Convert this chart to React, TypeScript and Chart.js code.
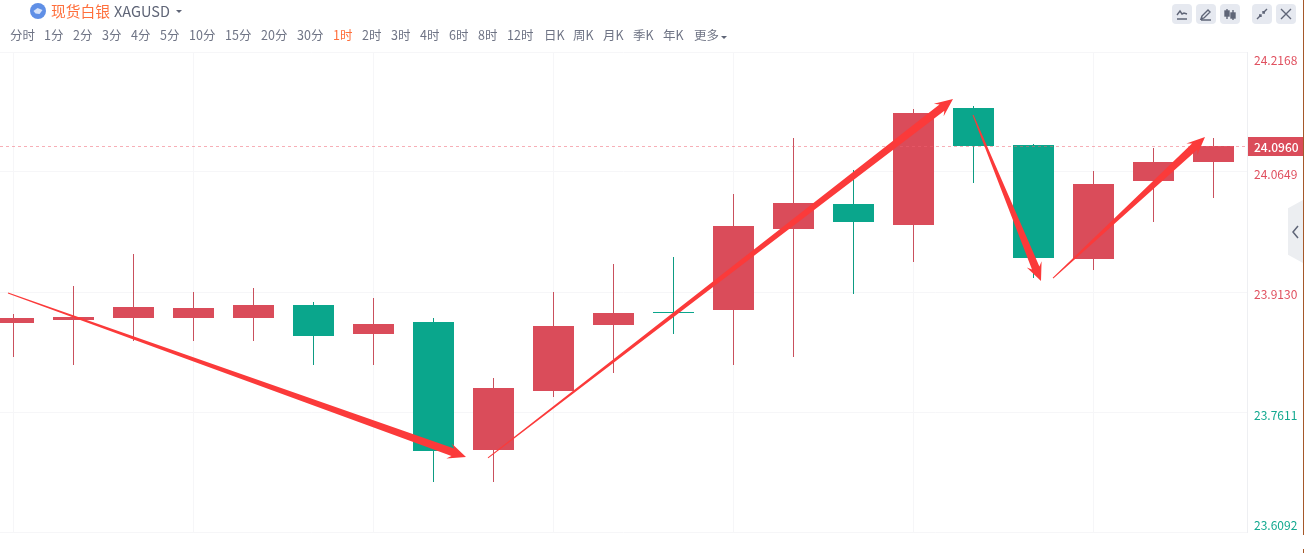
import React, { useEffect, useRef } from "react";
import { Chart, registerables } from "chart.js";

Chart.register(...registerables);

const slots = [0, 1, 2, 3, 4, 5, 6, 7, 8, 9, 10, 11, 12, 13, 14, 15, 16, 17, 18, 19, 20];
const opens = [23.8738, 23.8776, 23.8801, 23.8801, 23.8801, 23.8965, 23.8598, 23.875, 23.713, 23.7877, 23.8712, 23.8877, 23.8902, 23.9927, 24.0244, 23.9978, 24.1459, 24.0991, 23.9548, 24.0535, 24.0776];
const closes = [23.8801, 23.8813, 23.894, 23.8927, 23.8965, 23.8573, 23.8725, 23.7117, 23.7915, 23.87, 23.8864, 23.8864, 23.9965, 24.0257, 24.0016, 24.1396, 24.0978, 23.956, 24.0497, 24.0776, 24.0978];
const highs = [23.8851, 23.9206, 23.9611, 23.913, 23.9181, 23.9003, 23.9054, 23.8801, 23.8041, 23.913, 23.9484, 23.9573, 24.0371, 24.1079, 24.0674, 24.1446, 24.1484, 24.1003, 24.0662, 24.0953, 24.1079];
const lows = [23.8307, 23.8206, 23.851, 23.851, 23.851, 23.8206, 23.8206, 23.6725, 23.6725, 23.7801, 23.8105, 23.8598, 23.8206, 23.8307, 23.9105, 23.951, 24.051, 23.9307, 23.9408, 24.0016, 24.032];

const lastPrice = 24.096;
const tickValues = [24.2168, 24.0649, 23.913, 23.7611, 23.6092];
const tickNudges = [8, 2, 2, 3, -7];
const verticalGridSlots = [0, 3, 6, 9, 12, 15, 18];
const arrowStarts = [[-0.0917, 23.9117], [7.9083, 23.7029], [15.9917, 24.1371], [17.325, 23.9307]];
const arrowEnds = [[7.5417, 23.7041], [15.6583, 24.1573], [17.125, 23.9269], [19.8583, 24.1092]];

const menuLabels = ["分时", "1分", "2分", "3分", "4分", "5分", "10分", "15分", "20分", "30分", "1时", "2时", "3时", "4时", "6时", "8时", "12时", "日K", "周K", "月K", "季K", "年K", "更多"];
const menuLefts = [10, 44, 73, 102, 131, 160, 189, 225, 261, 297, 333, 362, 391, 420, 449, 478, 507, 544, 573, 603, 633, 663, 694];

const UP = "#da4c5a";
const DOWN = "#0aa68c";
const UP_WICK = "#c9505d";
const DOWN_WICK = "#0d9b83";
const FONT = '"Noto Sans CJK SC", "Noto Sans", sans-serif';
const X_MIN = -0.225;
const X_MAX = 20.5583;

const overlayPlugin = {
  id: "overlay",
  afterLayout(chart: any) {
    const s = chart.scales.y;
    s._labelItems = s._computeLabelItems(chart.chartArea);
    s._labelItems.forEach((it: any, i: number) => {
      it.options.translation[1] += tickNudges[i] || 0;
    });
  },
  afterDraw(chart: any) {
    const { ctx, scales, chartArea } = chart;
    const x = scales.x;
    const y = scales.y;
    ctx.save();
    const py = Math.round(y.getPixelForValue(lastPrice));
    // last-price dashed line
    ctx.strokeStyle = "rgba(240, 96, 112, 0.5)";
    ctx.lineWidth = 1;
    ctx.setLineDash([3, 3]);
    ctx.beginPath();
    ctx.moveTo(chartArea.left, py - 0.5);
    ctx.lineTo(chartArea.right, py - 0.5);
    ctx.stroke();
    ctx.setLineDash([]);
    // last-price tag
    ctx.fillStyle = UP;
    ctx.fillRect(1248, py - 10, 55, 19);
    ctx.fillStyle = "#ffffff";
    ctx.font = `500 12px ${FONT}`;
    ctx.textBaseline = "middle";
    ctx.textAlign = "left";
    ctx.fillText(lastPrice.toFixed(4), 1254, py);
    // hand-drawn arrows
    ctx.fillStyle = "#fb3a3a";
    arrowStarts.forEach((s, i) => {
      const e = arrowEnds[i];
      const x0 = x.getPixelForValue(s[0]);
      const y0 = y.getPixelForValue(s[1]);
      const x1 = x.getPixelForValue(e[0]);
      const y1 = y.getPixelForValue(e[1]);
      const len = Math.hypot(x1 - x0, y1 - y0);
      const ux = (x1 - x0) / len;
      const uy = (y1 - y0) / len;
      const nx = -uy;
      const ny = ux;
      const at = (along: number, off: number): [number, number] => [x0 + ux * along + nx * off, y0 + uy * along + ny * off];
      const pts = [
        at(0, 0.5),
        at(len - 14, 4),
        at(len - 18, 8),
        at(len, 0),
        at(len - 18, -8),
        at(len - 14, -4),
        at(0, -0.5),
      ];
      ctx.beginPath();
      pts.forEach((p, k) => (k ? ctx.lineTo(p[0], p[1]) : ctx.moveTo(p[0], p[1])));
      ctx.closePath();
      ctx.fill();
    });
    ctx.restore();
  },
};

function Btn({ left, children }: { left: number; children: React.ReactNode }) {
  return (
    <div style={{ position: "absolute", left, top: 4, width: 20, height: 20, borderRadius: 4, background: "#e6e9f0" }}>
      <svg width="20" height="20" viewBox="0 0 20 20" fill="none" stroke="#5f6577" strokeWidth="1.4">
        {children}
      </svg>
    </div>
  );
}

export default function App() {
  const ref = useRef<HTMLCanvasElement>(null);
  useEffect(() => {
    const rising = opens.map((o, i) => closes[i] >= o);
    const chart = new Chart(ref.current!, {
      type: "bar",
      data: {
        datasets: [
          {
            type: "bar",
            data: slots.map((s, i) => ({ x: s, y: [lows[i], highs[i]] })),
            backgroundColor: rising.map((r) => (r ? UP_WICK : DOWN_WICK)),
            barThickness: 1,
            inflateAmount: 0,
            grouped: false,
            order: 2,
          },
          {
            type: "bar",
            data: slots.map((s, i) => ({ x: s, y: [opens[i], closes[i]] })),
            backgroundColor: rising.map((r) => (r ? UP : DOWN)),
            barThickness: 41,
            inflateAmount: 0,
            grouped: false,
            minBarLength: 1,
            order: 1,
          },
        ] as any,
      },
      options: {
        animation: false,
        responsive: false,
        devicePixelRatio: 1,
        layout: { padding: { top: 52, bottom: 21, left: 0, right: 0 } },
        plugins: { legend: { display: false }, tooltip: { enabled: false } },
        scales: {
          x: {
            type: "linear",
            offset: false,
            min: X_MIN,
            max: X_MAX,
            grid: { color: "#f6f6f8", drawTicks: false, lineWidth: 1, offset: false },
            border: { display: false },
            ticks: { display: false },
            afterBuildTicks: (axis: any) => {
              axis.ticks = verticalGridSlots.map((value) => ({ value }));
            },
          },
          y: {
            position: "right",
            min: 23.6092,
            max: 24.2168,
            afterFit: (axis: any) => {
              axis.width = 57;
            },
            afterBuildTicks: (axis: any) => {
              axis.ticks = tickValues.map((value) => ({ value }));
            },
            grid: { color: "#f6f6f8", drawTicks: false, lineWidth: 1 },
            border: { display: true, color: "#eeeff2" },
            ticks: {
              padding: 7,
              autoSkip: false,
              maxRotation: 0,
              font: { family: FONT, size: 12 },
              color: (c: any) => (c.tick && c.tick.value > lastPrice - 0.2 ? "#e0505f" : "#12a88f"),
              callback: (v: any) => Number(v).toFixed(4),
            },
          },
        },
      } as any,
      plugins: [overlayPlugin],
    });
    return () => chart.destroy();
  }, []);

  return (
    <div style={{ position: "fixed", left: 0, top: 0, width: 1304, height: 553, background: "#fff", overflow: "hidden", fontFamily: FONT }}>
      <canvas ref={ref} width={1304} height={553} style={{ position: "absolute", left: 0, top: 0, width: 1304, height: 553 }} />
      <div style={{ position: "absolute", left: 30, top: 3, width: 16, height: 16, borderRadius: 8, background: "#5f8fe6" }} />
      <svg style={{ position: "absolute", left: 30, top: 3 }} width="16" height="16"><path d="M3.5 8l4-3 5 2-3 4-4-0.5z" fill="#d5e2fa" /></svg>
      <div style={{ position: "absolute", left: 51, top: 0, fontSize: 14.75, lineHeight: "22px", color: "#ff6f3c" }}>现货白银</div>
      <div style={{ position: "absolute", left: 114, top: 0, fontSize: 14.5, lineHeight: "22px", color: "#5f6577" }}>XAGUSD</div>
      <div style={{ position: "absolute", left: 176, top: 10, width: 0, height: 0, borderLeft: "3px solid transparent", borderRight: "3px solid transparent", borderTop: "3px solid #5f6577" }} />
      {menuLabels.map((t, i) => (
        <div key={t} style={{ position: "absolute", left: menuLefts[i], top: 26, fontSize: 12.5, lineHeight: "18px", whiteSpace: "nowrap", color: t === "1时" ? "#ff6f3c" : "#6f7485" }}>{t}</div>
      ))}
      <div style={{ position: "absolute", left: 721, top: 36, width: 0, height: 0, borderLeft: "3px solid transparent", borderRight: "3px solid transparent", borderTop: "3px solid #5f6577" }} />
      <Btn left={1172}><path d="M5 11l3-4 2 3 2-1 3 1M5 15h10" /></Btn>
      <Btn left={1196}><path d="M6 12l6-6 2 2-6 6-3 1zM5 16h10" /></Btn>
      <Btn left={1220}><path d="M7 5v10M13 6v10" /><rect x="5" y="7" width="4" height="5" fill="#5f6577" /><rect x="11" y="9" width="4" height="5" fill="#5f6577" /></Btn>
      <Btn left={1252}><path d="M5 15l4-4M15 5l-4 4M7 11h2v2M13 9h-2V7" /></Btn>
      <Btn left={1276}><path d="M5 5l10 10M15 5L5 15" /></Btn>
      <div style={{ position: "absolute", left: 1288, top: 200, width: 15, height: 63, background: "#eceef1", clipPath: "polygon(100% 0, 100% 100%, 0 87%, 0 13%)" }} />
      <svg style={{ position: "absolute", left: 1290, top: 225 }} width="12" height="14" fill="none" stroke="#5f6577" strokeWidth="1.5"><path d="M8 1L3 7l5 6" /></svg>
      <div style={{ position: "absolute", left: 1303, top: 0, width: 1, height: 535, background: "#a5582a" }} />
      <div style={{ position: "absolute", left: 1303, top: 549, width: 1, height: 4, background: "#a5582a" }} />
    </div>
  );
}
